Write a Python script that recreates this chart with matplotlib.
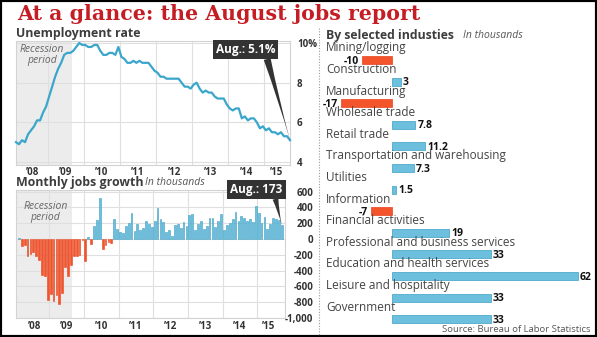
import numpy as np
import matplotlib
matplotlib.use('Agg')
import matplotlib.pyplot as plt
from matplotlib.patches import Rectangle
from matplotlib.lines import Line2D

plt.rcParams['font.family'] = ['Open Sans', 'DejaVu Sans']

# ---- data (Jan 2008 .. Aug 2015, monthly) ----
unemp_rate = [
    5.0, 4.9, 5.1, 5.0, 5.4, 5.6, 5.8, 6.1, 6.1, 6.5, 6.8, 7.3,
    7.8, 8.3, 8.7, 9.0, 9.4, 9.5, 9.5, 9.6, 9.8, 10.0, 9.9, 9.9,
    9.8, 9.8, 9.9, 9.9, 9.6, 9.4, 9.4, 9.5, 9.5, 9.4, 9.8, 9.3,
    9.2, 9.0, 9.0, 9.1, 9.0, 9.1, 9.0, 9.0, 9.0, 8.8, 8.6, 8.5,
    8.3, 8.3, 8.2, 8.2, 8.2, 8.2, 8.2, 8.0, 7.8, 7.8, 7.7, 7.9,
    8.0, 7.7, 7.5, 7.6, 7.5, 7.5, 7.3, 7.2, 7.2, 7.2, 6.9, 6.7,
    6.6, 6.7, 6.7, 6.2, 6.3, 6.1, 6.2, 6.2, 6.0, 5.7, 5.8, 5.6,
    5.7, 5.5, 5.5, 5.4, 5.5, 5.3, 5.3, 5.1,
]
jobs_growth = [
    17, -84, -78, -210, -185, -165, -209, -266, -452, -473, -769, -695,
    -791, -703, -823, -686, -351, -470, -329, -212, -219, -200, -7, -279,
    28, -69, 163, 243, 522, -133, -70, -34, -52, 253, 127, 93,
    72, 160, 203, 325, 97, 190, 118, 135, 224, 190, 148, 232,
    388, 253, 215, 84, 114, 34, 181, 190, 139, 215, 165, 300,
    316, 118, 190, 224, 127, 169, 262, 262, 148, 224, 316, 114,
    181, 198, 253, 338, 232, 291, 262, 224, 253, 219, 422, 329,
    198, 274, 127, 190, 266, 249, 245, 173,
]
year_labels = ['\u201908', '\u201909', '\u201910', '\u201911', '\u201912', '\u201913', '\u201914', '\u201915']

industries = ['Mining/logging', 'Construction', 'Manufacturing', 'Wholesale trade',
              'Retail trade', 'Transportation and warehousing', 'Utilities',
              'Information', 'Financial activities', 'Professional and business services',
              'Education and health services', 'Leisure and hospitality', 'Government']
industry_change = [-10, 3, -17, 7.8, 11.2, 7.3, 1.5, -7, 19, 33, 62, 33, 33]

months = np.arange(len(unemp_rate))
label_pos = [5.5, 16.5, 28.5, 40.5, 52.5, 64.5, 76.5, 86.5]
grid_pos = [10.5 + 12 * k for k in range(7)]

RED = '#f4542c'
BLUE = '#6cc0de'
BLUE_EDGE = '#3d9fc5'
LINE = '#3ba6cb'
GRID = '#dfdfdf'
TXT = '#3d3d3d'

W, H = 597, 337
fig = plt.figure(figsize=(W / 100, H / 100), dpi=100)


def px_axes(x0, y0, x1, y1):
    return fig.add_axes([x0 / W, 1 - y1 / H, (x1 - x0) / W, (y1 - y0) / H])


def style_axes(ax):
    ax.tick_params(which='both', length=0, labelsize=7, labelcolor='#333')
    for s in ax.spines.values():
        s.set_color('#d3d3d3')
        s.set_linewidth(0.8)
    ax.set_axisbelow(True)


fig.text(17 / W, 1 - 14 / H, 'At a glance: the August jobs report', family='DejaVu Serif',
         weight='bold', size=14.8, color='#c41e24', va='center')

# ---- unemployment rate ----
fig.text(16 / W, 1 - 33 / H, 'Unemployment rate', weight='bold', size=8.9, color=TXT, va='center')
ax1 = px_axes(16, 41, 290, 165)
style_axes(ax1)
ax1.axvspan(-1, 18.5, color='#ececec', lw=0, zorder=0)
ax1.plot(months, unemp_rate, color=LINE, lw=1.6, clip_on=False, zorder=3)
ax1.set_xlim(0, 91)
ax1.set_ylim(3.85, 10.1)
ax1.yaxis.tick_right()
ax1.set_yticks([4, 6, 8, 10])
ax1.set_yticklabels(['4', '6', '8', '10%'], fontweight='bold')
ax1.set_xticks(label_pos)
ax1.set_xticklabels(year_labels, fontweight='bold')
ax1.set_xticks(grid_pos, minor=True)
ax1.grid(which='minor', axis='x', color=GRID, lw=0.8)
ax1.grid(which='major', axis='y', color=GRID, lw=0.8)
ax1.tick_params(axis='y', pad=5)
ax1.tick_params(axis='x', pad=1.5)
ax1.text(0.095, 0.885, 'Recession\nperiod', transform=ax1.transAxes, ha='center', va='center',
         style='italic', size=7.5, color='#666', linespacing=1.0)
ax1.annotate('Aug.: %.1f%%' % unemp_rate[-1], xy=(months[-1], unemp_rate[-1]),
             xytext=(0.8376, 0.931), textcoords='axes fraction', ha='center', va='center',
             color='white', weight='bold', size=8.5, annotation_clip=False,
             bbox=dict(boxstyle='square,pad=0.25', fc='#333333', ec='none'),
             arrowprops=dict(arrowstyle='wedge,tail_width=0.6,shrink_factor=0.3',
                             fc='#333333', ec='none', relpos=(0.85, 0.0),
                             shrinkA=0, shrinkB=0))

# ---- monthly jobs growth ----
fig.text(16 / W, 1 - 182.5 / H, 'Monthly jobs growth', weight='bold', size=8.9, color=TXT, va='center')
fig.text(145 / W, 1 - 182.5 / H, 'In thousands', style='italic', size=7.5, color='#555', va='center')
ax2 = px_axes(16, 190, 285, 318)
style_axes(ax2)
ax2.axvspan(-2, 18.5, color='#ececec', lw=0, zorder=0)
bar_cols = [BLUE if v >= 0 else RED for v in jobs_growth]
edge_cols = [BLUE_EDGE if v >= 0 else '#e8431c' for v in jobs_growth]
ax2.bar(months, jobs_growth, width=0.62, color=bar_cols, edgecolor=edge_cols, lw=0.4, zorder=2)
ax2.set_xlim(-1, 92.1)
ax2.set_ylim(-1000, 620)
ax2.yaxis.tick_right()
yt = np.arange(-1000, 601, 200)
ax2.set_yticks(yt)
ax2.set_yticklabels(['{:,}'.format(v) for v in yt], fontweight='bold', ha='right')
ax2.tick_params(axis='y', pad=20.5)
ax2.set_xticks(label_pos)
ax2.set_xticklabels(year_labels, fontweight='bold')
ax2.set_xticks(grid_pos, minor=True)
ax2.grid(which='minor', axis='x', color=GRID, lw=0.8)
ax2.grid(which='major', axis='y', color=GRID, lw=0.8)
ax2.tick_params(axis='x', pad=2)
ax2.text(0.11, 0.83, 'Recession\nperiod', transform=ax2.transAxes, ha='center', va='center',
         style='italic', size=7.5, color='#666', linespacing=1.0)
ax2.annotate('Aug.: %d' % jobs_growth[-1], xy=(months[-1], jobs_growth[-1]),
             xytext=(0.894, 1.004), textcoords='axes fraction', ha='center', va='center',
             color='white', weight='bold', size=8.5, annotation_clip=False,
             bbox=dict(boxstyle='square,pad=0.25', fc='#333333', ec='none'),
             arrowprops=dict(arrowstyle='wedge,tail_width=0.5,shrink_factor=0.3',
                             fc='#333333', ec='none', relpos=(0.85, 0.0),
                             shrinkA=0, shrinkB=0))

# ---- by industry ----
fig.add_artist(Line2D([318.5 / W] * 2, [1 - 28 / H, 1 - 336 / H], transform=fig.transFigure,
                      color='#9a9a9a', lw=0.8, ls=(0, (1, 1.5))))
fig.text(326 / W, 1 - 35 / H, 'By selected industies', weight='bold', size=8.8, color=TXT, va='center')
fig.text(463 / W, 1 - 35 / H, 'In thousands', style='italic', size=7.5, color='#555', va='center')
ax3 = px_axes(326, 40, 592, 330)
ax3.axis('off')
rows = np.arange(len(industries))
ax3.set_xlim(-21.9, 66.8)
ax3.set_ylim(12.5, -0.926)
ax3.barh(rows, industry_change, height=0.37,
         color=[BLUE if v >= 0 else RED for v in industry_change],
         edgecolor=[BLUE_EDGE if v >= 0 else '#e8431c' for v in industry_change], lw=0.5)
for r, name, v in zip(rows, industries, industry_change):
    ax3.text(-21.9, r - 0.56, name, ha='left', va='center', size=8.5, color='#444')
    if v >= 0:
        ax3.text(v + 0.8, r + 0.05, f'{v:g}', ha='left', va='center', size=7.5, weight='bold', color='#111')
    else:
        ax3.text(v - 0.8, r + 0.05, f'{v:g}', ha='right', va='center', size=7.5, weight='bold', color='#111')

fig.text(590 / W, 1 - 329 / H, 'Source: Bureau of Labor Statistics', ha='right', va='center',
         size=6.8, color='#555')

fig.add_artist(Rectangle((0, 0), 1, 1, transform=fig.transFigure, fill=False, ec='black', lw=3))

fig.savefig('out.png', dpi=100)
